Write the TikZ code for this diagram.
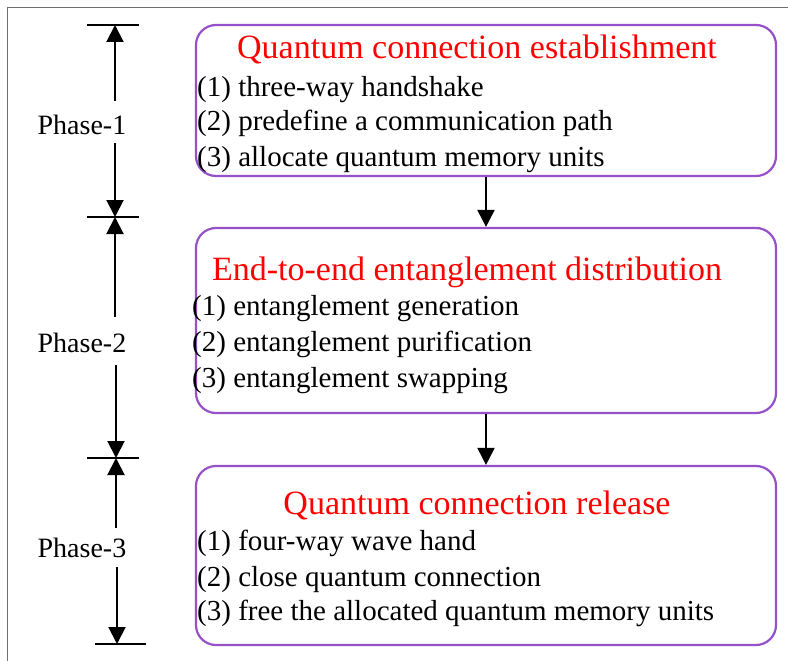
\documentclass[tikz,border=0pt]{standalone}
\usepackage{fontspec}
\setmainfont{Liberation Serif}
\usetikzlibrary{arrows.meta}
\definecolor{boxpurple}{RGB}{150,80,200}
\definecolor{framegray}{RGB}{110,110,110}
\tikzset{
  phasebox/.style={draw=boxpurple, line width=2.2pt, rounded corners=20pt, minimum width=580pt, inner sep=0pt},
  ttl/.style={text=red, font=\fontsize{34}{40}\selectfont, anchor=base, inner sep=0pt},
  item/.style={text=black, font=\fontsize{29}{34}\selectfont, anchor=base west, inner sep=0pt},
  plabel/.style={font=\fontsize{28}{33}\selectfont, anchor=base, inner sep=0pt},
  arr/.style={line width=2pt, -{Triangle[length=17pt,width=17pt]}},
  bar/.style={line width=2pt},
}
\begin{document}
\begin{tikzpicture}[x=1pt,y=-1pt]
\useasboundingbox (0,0) rectangle (788,661);
% frame
\draw[framegray, line width=0.9pt] (788,7) -- (7,7) -- (7,661);

% boxes
\node[phasebox, minimum height=151pt] (b1) at (486,100.5) {};
\node[phasebox, minimum height=185pt] (b2) at (486,320.5) {};
\node[phasebox, minimum height=179pt] (b3) at (486,555.5) {};

% box 1 text
\node[ttl] (t1) at (477,59) {Quantum connection establishment};
\node[item] (i11) at (197,96.5) {(1) three-way handshake};
\node[item] (i12) at (197,131) {(2) predefine a communication path};
\node[item] (i13) at (197,166) {(3) allocate quantum memory units};

% box 2 text
\node[ttl] (t2) at (467,280) {End-to-end entanglement distribution};
\node[item] (i21) at (192,315) {(1) entanglement generation};
\node[item] (i22) at (192,351) {(2) entanglement purification};
\node[item] (i23) at (192,387) {(3) entanglement swapping};

% box 3 text
\node[ttl] (t3) at (477,514) {Quantum connection release};
\node[item] (i31) at (197,550) {(1) four-way wave hand};
\node[item] (i32) at (197,586) {(2) close quantum connection};
\node[item] (i33) at (197,620) {(3) free the allocated quantum memory units};

% arrows between boxes
\draw[arr] (b1.south) -- (b2.north);
\draw[arr] (b2.south) -- (b3.north);

% phase labels
\node[plabel] (p1) at (82,135) {Phase-1};
\node[plabel] (p2) at (82,352) {Phase-2};
\node[plabel] (p3) at (82,557) {Phase-3};

% bars
\coordinate (bar0l) at (87,25);  \coordinate (bar0r) at (139,25);
\coordinate (bar1l) at (87,217); \coordinate (bar1r) at (139,217);
\coordinate (bar2l) at (87,458); \coordinate (bar2r) at (139,458);
\coordinate (bar3l) at (95,644); \coordinate (bar3r) at (146,644);
\draw[bar] (bar0l) -- (bar0r);
\draw[bar] (bar1l) -- (bar1r);
\draw[bar] (bar2l) -- (bar2r);
\draw[bar] (bar3l) -- (bar3r);

% dimension arrows
\coordinate (a1s) at (115,101); \coordinate (a1e) at (115,25);
\coordinate (a2s) at (115,143); \coordinate (a2e) at (115,217);
\coordinate (a3s) at (115,317); \coordinate (a3e) at (115,217);
\coordinate (a4s) at (116,365); \coordinate (a4e) at (116,458);
\coordinate (a5s) at (116,528); \coordinate (a5e) at (116,458);
\coordinate (a6s) at (117,567); \coordinate (a6e) at (117,644);
\draw[arr] (a1s) -- (a1e);
\draw[arr] (a2s) -- (a2e);
\draw[arr] (a3s) -- (a3e);
\draw[arr] (a4s) -- (a4e);
\draw[arr] (a5s) -- (a5e);
\draw[arr] (a6s) -- (a6e);
\end{tikzpicture}
\end{document}
